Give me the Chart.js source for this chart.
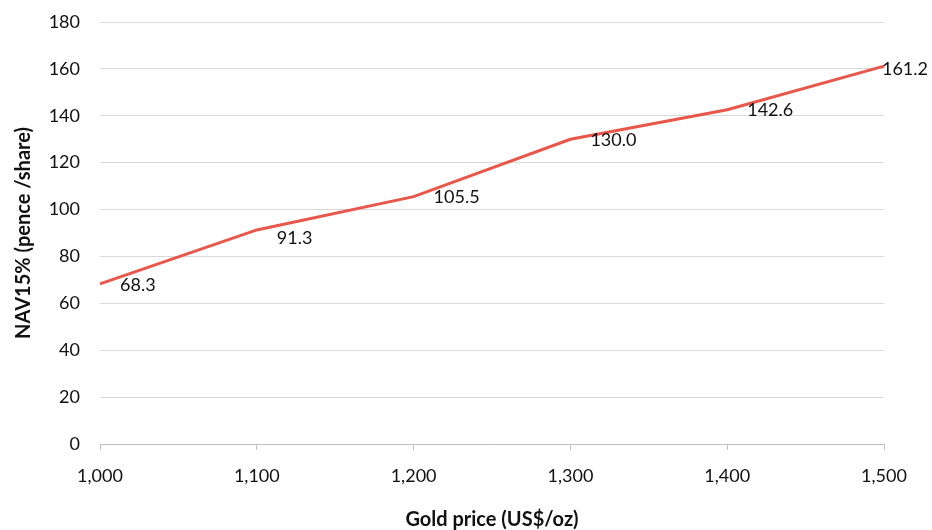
<!DOCTYPE html>
<html>
<head>
<meta charset="utf-8">
<script src="https://cdn.jsdelivr.net/npm/chart.js@4/dist/chart.umd.min.js"></script>
<style>
html,body{margin:0;padding:0;background:#fff;}
#wrap{width:932px;height:530px;position:relative;}
</style>
</head>
<body>
<div id="wrap"><canvas id="c" width="932" height="530"></canvas></div>
<script>
const goldPrices = ['1,000', '1,100', '1,200', '1,300', '1,400', '1,500'];
const navValues = [68.3, 91.3, 105.5, 130.0, 142.6, 161.2];
const yTicks = [0, 20, 40, 60, 80, 100, 120, 140, 160, 180];
const xTitle = 'Gold price (US$/oz)';
const yTitle = 'NAV15% (pence /share)';

const FONT = 'Lato, "Noto Sans", sans-serif';
const TEXT = '#111111';

const dataLabels = {
  id: 'dataLabels',
  afterDatasetsDraw(chart, args, opts) {
    const ctx = chart.ctx;
    const meta = chart.getDatasetMeta(0);
    ctx.save();
    ctx.font = '18px ' + FONT;
    ctx.fillStyle = TEXT;
    ctx.textAlign = 'left';
    ctx.textBaseline = 'middle';
    meta.data.forEach((pt, i) => {
      const txt = navValues[i].toFixed(1);
      const w = ctx.measureText(txt).width;
      let x = pt.x + opts.dx;
      if (x + w > chart.width - 4) x = chart.width - 4 - w;
      const dy = (opts.dy[i] !== undefined) ? opts.dy[i] : 1;
      ctx.fillText(txt, x, pt.y + dy);
    });
    ctx.restore();
  }
};

new Chart(document.getElementById('c'), {
  type: 'line',
  data: {
    labels: goldPrices,
    datasets: [{
      data: navValues,
      borderColor: '#E9574B',
      backgroundColor: '#E9574B',
      borderWidth: 3,
      pointRadius: 0,
      tension: 0,
      fill: false
    }]
  },
  options: {
    responsive: false,
    animation: false,
    devicePixelRatio: 1,
    layout: { padding: { top: 22, right: 48, bottom: 0, left: 0 } },
    plugins: {
      legend: { display: false },
      tooltip: { enabled: false },
      dataLabels: { dx: 20, dy: [1, 8, 1, 1, 1, 3] }
    },
    scales: {
      x: {
        type: 'category',
        offset: false,
        grid: { drawOnChartArea: false, drawTicks: true, tickLength: 6, color: '#bfbfbf' },
        border: { display: true, color: '#bfbfbf', width: 1 },
        ticks: { color: TEXT, font: { family: FONT, size: 18 }, padding: 15, maxRotation: 0, autoSkip: false },
        title: { display: true, text: xTitle, color: TEXT, font: { family: FONT, size: 20, weight: 'bold' }, padding: { top: 0, bottom: -2 } },
        afterFit(scale) { scale.height = 86; }
      },
      y: {
        min: 0,
        max: 180,
        afterBuildTicks(scale) { scale.ticks = yTicks.map(v => ({ value: v })); },
        grid: { color: '#d9d9d9', drawTicks: true, tickLength: 17, tickColor: 'rgba(0,0,0,0)' },
        border: { display: false },
        ticks: { color: TEXT, font: { family: FONT, size: 18 }, padding: 3 },
        title: { display: true, text: yTitle, color: TEXT, font: { family: FONT, size: 20, weight: 'bold' }, padding: { top: 12, bottom: 0 } },
        afterFit(scale) { scale.width = 100; }
      }
    }
  },
  plugins: [dataLabels]
});
</script>
</body>
</html>
